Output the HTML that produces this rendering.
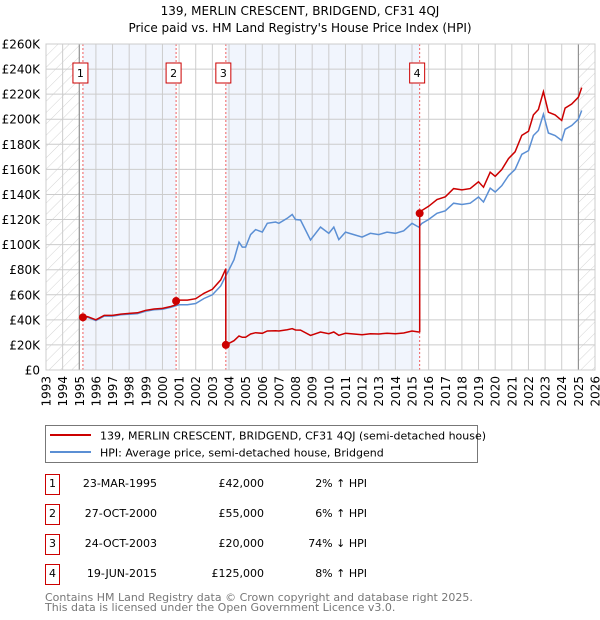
<!DOCTYPE html>
<html><head><meta charset="utf-8"><style>
body{margin:0;background:#fff;}
svg{display:block;font-family:"DejaVu Sans","Liberation Sans",sans-serif;}
</style></head><body>
<svg id="chart" width="600" height="620" viewBox="0 0 600 620" xmlns="http://www.w3.org/2000/svg">
<defs>
<pattern id="hatch" patternUnits="userSpaceOnUse" width="8" height="8" patternTransform="rotate(45)">
<line x1="0" y1="0" x2="0" y2="8" stroke="#d4d4d4" stroke-width="1"/>
</pattern>
</defs>
<text x="300" y="15" text-anchor="middle" font-size="12">139, MERLIN CRESCENT, BRIDGEND, CF31 4QJ</text>
<text x="300" y="32" text-anchor="middle" font-size="12">Price paid vs. HM Land Registry's House Price Index (HPI)</text>
<g id="plot"></g>
<g>
<rect x="45.5" y="425.5" width="432" height="37" fill="#fff" stroke="#777"/>
<line x1="50" y1="435" x2="91" y2="435" stroke="#cc0000" stroke-width="2"/>
<text x="100" y="439.5" font-size="11">139, MERLIN CRESCENT, BRIDGEND, CF31 4QJ (semi-detached house)</text>
<line x1="50" y1="452" x2="91" y2="452" stroke="#5b8fd4" stroke-width="2"/>
<text x="100" y="456.5" font-size="11">HPI: Average price, semi-detached house, Bridgend</text>
</g>
<g id="table" font-size="11"></g>
<text x="45" y="601" font-size="11" fill="#777">Contains HM Land Registry data © Crown copyright and database right 2025.</text>
<text x="45" y="611" font-size="11" fill="#777">This data is licensed under the Open Government Licence v3.0.</text>
</svg>
<script>
const hpiYears=[1995.0,1995.5,1996.0,1996.5,1997.0,1997.5,1998.0,1998.5,1999.0,1999.5,2000.0,2000.5,2001.0,2001.5,2002.0,2002.5,2003.0,2003.5,2003.8,2004.0,2004.3,2004.6,2004.8,2005.0,2005.3,2005.6,2006.0,2006.3,2006.8,2007.0,2007.5,2007.8,2008.0,2008.3,2008.9,2009.5,2010.0,2010.3,2010.6,2011.0,2011.5,2012.0,2012.5,2013.0,2013.5,2014.0,2014.5,2015.0,2015.4,2015.6,2016.0,2016.5,2017.0,2017.5,2018.0,2018.5,2019.0,2019.3,2019.7,2020.0,2020.4,2020.8,2021.2,2021.6,2022.0,2022.3,2022.6,2022.9,2023.2,2023.6,2024.0,2024.2,2024.6,2025.0,2025.2];
const hpiValues=[41,42,39.5,43,43,44,44.5,45,47,48,48.5,50,52,52,53,57,60,67,75,80,88,102,98,98,108,112,110,117,118,117,121,124,120,119.6,103.7,114,109,114,104,110,108,106,109,108,110,109,111,117,114,117,120,125,127,133,132,133,138,134,145,142,147,155,160,172,175,187,191,204,189,187,183,192,195,200,207];
const saleLabels=['1','2','3','4'];
const saleYears=[1995.22,2000.82,2003.81,2015.46];
const salePrices=[42000,55000,20000,125000];
const saleDates=['23-MAR-1995','27-OCT-2000','24-OCT-2003','19-JUN-2015'];
const salePriceText=['£42,000','£55,000','£20,000','£125,000'];
const saleHpiText=['2% ↑ HPI','6% ↑ HPI','74% ↓ HPI','8% ↑ HPI'];
const yTicks=[0,20,40,60,80,100,120,140,160,180,200,220,240,260];
const xTicks=[1993,1994,1995,1996,1997,1998,1999,2000,2001,2002,2003,2004,2005,2006,2007,2008,2009,2010,2011,2012,2013,2014,2015,2016,2017,2018,2019,2020,2021,2022,2023,2024,2025,2026];

const NS='http://www.w3.org/2000/svg';
const X0=46,X1=595,Y0=370,Y1=44;
const xs=y=>X0+(y-1993)/(2026-1993)*(X1-X0);
const ys=v=>Y0-v/260*(Y0-Y1);
const plot=document.getElementById('plot');
function mk(tag,attrs,parent){const e=document.createElementNS(NS,tag);for(const k in attrs)e.setAttribute(k,attrs[k]);(parent||plot).appendChild(e);return e;}
function hpiAt(t){for(let i=0;i<hpiYears.length-1;i++){if(t>=hpiYears[i]&&t<=hpiYears[i+1]){const f=(t-hpiYears[i])/(hpiYears[i+1]-hpiYears[i]);return hpiValues[i]+f*(hpiValues[i+1]-hpiValues[i]);}}return hpiValues[hpiValues.length-1];}

let h1=mk('rect',{x:X0,y:Y1,width:xs(1995)-X0,height:Y0-Y1,fill:'url(#hatch)'});


let h2=mk('rect',{x:xs(2025.0),y:Y1,width:X1-xs(2025.0),height:Y0-Y1,fill:'url(#hatch)'});


[[0,1],[2,3]].forEach(p=>{const r=mk('rect',{x:xs(saleYears[p[0]]),y:Y1,width:xs(saleYears[p[1]])-xs(saleYears[p[0]]),height:Y0-Y1,fill:'#eef3fd',opacity:0.8});

});
yTicks.forEach(v=>{const l=mk('line',{x1:X0,x2:X1,y1:ys(v),y2:ys(v),stroke:'#ccc','stroke-width':1});


const t=mk('text',{x:40,y:ys(v)+4.5,'text-anchor':'end','font-size':'12'});t.textContent=v===0?'£0':'£'+v+'K';

});
xTicks.forEach(y=>{const l=mk('line',{x1:xs(y),x2:xs(y),y1:Y1,y2:Y0,stroke:'#ccc','stroke-width':1});


const t=mk('text',{x:0,y:0,'text-anchor':'end','font-size':'12',transform:`translate(${xs(y)+4.5},${Y0+6}) rotate(-90)`});t.textContent=y;

});
mk('line',{x1:xs(1995),x2:xs(1995),y1:Y1,y2:Y0,stroke:'#888'});
mk('line',{x1:xs(2025),x2:xs(2025),y1:Y1,y2:Y0,stroke:'#888'});
saleYears.forEach((s,i)=>{const l=mk('line',{x1:xs(s),x2:xs(s),y1:Y1,y2:Y0,stroke:'#f06060','stroke-dasharray':'2,2','stroke-width':1});


const r=mk('rect',{x:xs(s)-10,y:63,width:15,height:20,fill:'#fff',stroke:'#cc0000'});


const t=mk('text',{x:xs(s)-2.5,y:77,'text-anchor':'middle','font-size':'11'});t.textContent=saleLabels[i];

});
let d=hpiYears.map((t,i)=>(i?'L':'M')+xs(t).toFixed(1)+','+ys(hpiValues[i]).toFixed(1)).join('');
let hl=mk('path',{d:d,fill:'none',stroke:'#5b8fd4','stroke-width':1.5});


let pts=[];
for(let k=0;k<saleYears.length;k++){
  const ratio=salePrices[k]/1000/hpiAt(saleYears[k]);
  const end=k<saleYears.length-1?saleYears[k+1]:hpiYears[hpiYears.length-1];
  pts.push([saleYears[k],salePrices[k]/1000]);
  hpiYears.forEach((t,i)=>{if(t>saleYears[k]&&t<end)pts.push([t,hpiValues[i]*ratio]);});
  pts.push([end,hpiAt(end)*ratio]);
}
let pd=pts.map((p,i)=>(i?'L':'M')+xs(p[0]).toFixed(1)+','+ys(p[1]).toFixed(1)).join('');
let pl=mk('path',{d:pd,fill:'none',stroke:'#cc0000','stroke-width':1.5});


saleYears.forEach((s,i)=>{const c=mk('circle',{cx:xs(s),cy:ys(salePrices[i]/1000),r:4,fill:'#cc0000'});

});
mk('rect',{x:X0,y:Y1,width:X1-X0,height:Y0-Y1,fill:'none',stroke:'#ccc'});
const tb=document.getElementById('table');
saleLabels.forEach((lab,i)=>{const y=483+i*30;
const r=mk('rect',{x:45.5,y:y-8.5,width:14,height:20,fill:'#fff',stroke:'#cc0000'},tb);


const t0=mk('text',{x:52.5,y:y+4,'text-anchor':'middle'},tb);t0.textContent=lab;


const t1=mk('text',{x:157,y:y+4,'text-anchor':'end'},tb);t1.textContent=saleDates[i];


const t2=mk('text',{x:264,y:y+4,'text-anchor':'end'},tb);t2.textContent=salePriceText[i];


const t3=mk('text',{x:367,y:y+4,'text-anchor':'end'},tb);t3.textContent=saleHpiText[i];

});
</script>
</body></html>
